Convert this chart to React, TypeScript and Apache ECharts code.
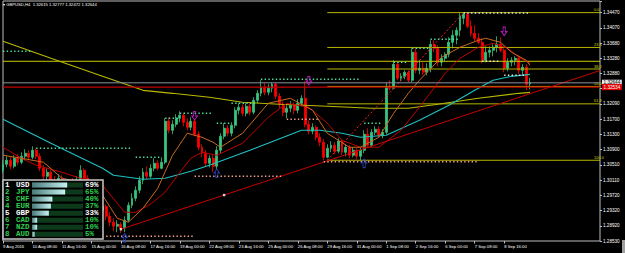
import React, { useEffect, useRef } from 'react';
import * as echarts from 'echarts';

const symbolName = 'GBPUSD,H4';
const firstYear = '2016';
const tradingDays = ['9 Aug','10 Aug','11 Aug','12 Aug','15 Aug','16 Aug','17 Aug','18 Aug','19 Aug','22 Aug','23 Aug','24 Aug','25 Aug','26 Aug','29 Aug','30 Aug','31 Aug','1 Sep','2 Sep','5 Sep','6 Sep','7 Sep','8 Sep','9 Sep'];
const barHours = ['00:00','04:00','08:00','12:00','16:00','20:00'];
const emptySlots = 19;

const opens = [
1.30370,1.30526,1.30630,1.30474,1.30682,1.30578,1.30734,1.30812,1.30708,1.30890,
1.30734,1.30422,1.30214,1.30318,1.30110,1.29980,1.30162,1.29954,1.29850,1.30006,
1.29902,1.30058,1.30370,1.30162,1.29980,1.29720,1.29590,1.29330,1.29434,1.29174,
1.29018,1.28914,1.28966,1.28862,1.29070,1.29460,1.29642,1.29850,1.30110,1.30318,
1.30214,1.30422,1.30552,1.30422,1.30578,1.31644,1.31410,1.31566,1.31722,1.31800,
1.31618,1.31488,1.31644,1.31306,1.30968,1.30812,1.30552,1.30682,1.30474,1.30890,
1.31254,1.31462,1.31332,1.31540,1.31930,1.32008,1.31852,1.32034,1.31878,1.32190,
1.32372,1.32528,1.32398,1.32502,1.32606,1.32294,1.32086,1.31878,1.31982,1.32060,
1.31930,1.32112,1.32242,1.31566,1.31384,1.31488,1.31228,1.31098,1.30708,1.30942,
1.31020,1.30864,1.31124,1.30838,1.30968,1.30760,1.30890,1.30734,1.30890,1.31306,
1.31020,1.31358,1.31436,1.31280,1.31358,1.32554,1.32502,1.33126,1.32762,1.32814,
1.32918,1.32710,1.33438,1.32970,1.33022,1.32918,1.33022,1.33646,1.33542,1.33178,
1.33282,1.33386,1.33698,1.33880,1.34010,1.34322,1.34426,1.34114,1.33932,1.33802,
1.33698,1.33230,1.33438,1.33490,1.33568,1.33646,1.33490,1.33022,1.33178,1.33230,
1.33282,1.32970,1.33048,1.32615];
const closes = [
1.30526,1.30630,1.30474,1.30682,1.30578,1.30734,1.30812,1.30708,1.30890,1.30734,
1.30422,1.30214,1.30318,1.30110,1.29980,1.30162,1.29954,1.29850,1.30006,1.29902,
1.30058,1.30370,1.30162,1.29980,1.29720,1.29590,1.29330,1.29434,1.29174,1.29018,
1.28914,1.28966,1.28862,1.29070,1.29460,1.29642,1.29850,1.30110,1.30318,1.30214,
1.30422,1.30552,1.30422,1.30578,1.31644,1.31410,1.31566,1.31722,1.31800,1.31618,
1.31488,1.31644,1.31306,1.30968,1.30812,1.30552,1.30682,1.30474,1.30890,1.31254,
1.31462,1.31332,1.31540,1.31930,1.32008,1.31852,1.32034,1.31878,1.32190,1.32372,
1.32528,1.32398,1.32502,1.32606,1.32294,1.32086,1.31878,1.31982,1.32060,1.31930,
1.32112,1.32242,1.31566,1.31384,1.31488,1.31228,1.31098,1.30708,1.30942,1.31020,
1.30864,1.31124,1.30838,1.30968,1.30760,1.30890,1.30734,1.30890,1.31306,1.31020,
1.31358,1.31436,1.31280,1.31358,1.32554,1.32502,1.33126,1.32762,1.32814,1.32918,
1.32710,1.33438,1.32970,1.33022,1.32918,1.33022,1.33646,1.33542,1.33178,1.33282,
1.33386,1.33698,1.33880,1.34010,1.34374,1.34426,1.34114,1.33932,1.33802,1.33698,
1.33230,1.33438,1.33490,1.33568,1.33646,1.33490,1.33022,1.33178,1.33230,1.33282,
1.32970,1.33048,1.32606,1.32644];
const highs = [
1.30630,1.30734,1.30708,1.30760,1.30786,1.30838,1.30916,1.30890,1.30994,1.30942,
1.30812,1.30500,1.30422,1.30370,1.30214,1.30266,1.30240,1.30032,1.30084,1.30162,
1.30214,1.30500,1.30422,1.30240,1.30058,1.29850,1.29668,1.29538,1.29486,1.29278,
1.29122,1.29070,1.29018,1.29174,1.29538,1.29772,1.29954,1.30214,1.30422,1.30474,
1.30526,1.30682,1.30630,1.30708,1.31722,1.31748,1.31670,1.31826,1.31904,1.31852,
1.31722,1.31748,1.31696,1.31384,1.31046,1.30890,1.30760,1.30760,1.30994,1.31332,
1.31592,1.31540,1.31618,1.32008,1.32112,1.32086,1.32112,1.32112,1.32268,1.32450,
1.32710,1.32632,1.32606,1.32658,1.32658,1.32372,1.32164,1.32060,1.32164,1.32138,
1.32216,1.32320,1.32684,1.31670,1.31592,1.31540,1.31332,1.31176,1.31046,1.31124,
1.31098,1.31202,1.31176,1.31046,1.31020,1.30968,1.30942,1.30968,1.31410,1.31462,
1.31436,1.31514,1.31514,1.31436,1.32658,1.32710,1.33230,1.33178,1.32892,1.32970,
1.32970,1.33542,1.33542,1.33230,1.33178,1.33152,1.33750,1.33750,1.33620,1.33386,
1.33438,1.33828,1.34010,1.34088,1.34452,1.34470,1.34452,1.34270,1.34140,1.33932,
1.33802,1.33594,1.33594,1.33646,1.33854,1.33828,1.33542,1.33282,1.33308,1.33334,
1.33334,1.33126,1.33126,1.32777];
const lows = [
1.30292,1.30448,1.30396,1.30422,1.30500,1.30526,1.30630,1.30630,1.30656,1.30656,
1.30344,1.30110,1.30058,1.29980,1.29850,1.29902,1.29850,1.29720,1.29746,1.29798,
1.29850,1.29980,1.30058,1.29850,1.29590,1.29460,1.29226,1.29174,1.29070,1.28914,
1.28784,1.28758,1.28732,1.28758,1.29018,1.29382,1.29564,1.29772,1.30006,1.30136,
1.30162,1.30344,1.30370,1.30396,1.30526,1.31332,1.31306,1.31488,1.31618,1.31514,
1.31410,1.31410,1.31254,1.30890,1.30708,1.30474,1.30448,1.30318,1.30396,1.30812,
1.31176,1.31254,1.31254,1.31462,1.31826,1.31774,1.31774,1.31800,1.31826,1.32112,
1.32294,1.32320,1.32320,1.32398,1.32216,1.31982,1.31774,1.31722,1.31878,1.31826,
1.31852,1.32034,1.31488,1.31306,1.31306,1.31150,1.30994,1.30630,1.30682,1.30838,
1.30786,1.30812,1.30760,1.30734,1.30682,1.30708,1.30656,1.30630,1.30812,1.30968,
1.30968,1.31280,1.31228,1.31202,1.31306,1.32450,1.32476,1.32710,1.32684,1.32736,
1.32658,1.32658,1.32892,1.32866,1.32840,1.32840,1.32918,1.33438,1.33074,1.33074,
1.33204,1.33308,1.33542,1.33646,1.33854,1.34166,1.34062,1.33854,1.33724,1.33646,
1.33152,1.33178,1.33308,1.33334,1.33438,1.33438,1.32918,1.32944,1.33074,1.33100,
1.32866,1.32840,1.32450,1.32472];

// moving averages: [bar index, price]
const maYellow = [[0,1.33724],[13,1.33282],[27,1.32814],[38,1.32450],[46,1.32372],[56,1.32268],[65,1.32138],[75,1.32086],[88,1.32034],[100,1.31982],[110,1.31982],[118,1.32086],[129,1.32242],[140,1.32372],[143,1.32398]];
const maCyan = [[0,1.31696],[13,1.31072],[27,1.30422],[30,1.30240],[38,1.30136],[44,1.30162],[51,1.30344],[56,1.30500],[67,1.30890],[81,1.31410],[86,1.31410],[92,1.31332],[97,1.31228],[104,1.31280],[113,1.31670],[121,1.32060],[128,1.32450],[133,1.32710],[138,1.32814],[143,1.32866]];
const maOrange = [[0,1.30760],[5,1.30682],[11,1.30578],[16,1.30162],[21,1.30058],[27,1.29720],[31,1.29122],[34,1.29018],[38,1.29382],[42,1.29902],[46,1.30760],[50,1.31332],[54,1.31228],[57,1.31098],[59,1.30968],[65,1.31332],[72,1.32112],[78,1.32242],[84,1.31930],[88,1.31332],[94,1.30968],[97,1.30968],[102,1.31228],[106,1.31852],[110,1.32372],[113,1.32710],[119,1.33308],[124,1.33568],[129,1.33750],[131,1.33802],[135,1.33698],[138,1.33438],[142,1.33230],[143,1.33100]];
const maRed = [[0,1.30968],[5,1.30682],[9,1.30500],[16,1.30318],[21,1.30162],[27,1.29980],[31,1.29512],[33,1.29278],[36,1.29278],[40,1.29486],[44,1.29798],[48,1.30318],[51,1.30682],[54,1.30838],[58,1.30760],[65,1.31072],[72,1.31748],[77,1.32112],[83,1.32008],[88,1.31592],[92,1.31150],[97,1.30968],[102,1.30968],[108,1.31410],[113,1.32008],[120,1.32892],[124,1.33282],[129,1.33568],[133,1.33672],[137,1.33542],[140,1.33308],[143,1.33152]];

// support / resistance dotted levels: [from bar, to bar, price]
const greenLevels = [[0,8,1.33464],[9,35,1.30942],[36,43,1.30708],[44,48,1.31722],[48,57,1.31852],[58,62,1.31592],[62,69,1.32112],[70,97,1.32736],[98,103,1.31592],[106,110,1.33178],[111,116,1.33542],[116,124,1.33776]];
const salmonLevels = [[28,52,1.28654],[52,76,1.30214],[77,86,1.31696],[87,129,1.30591]];
const whiteLevels = [[125,143,1.34460],[130,135,1.33204],[136,142,1.32840]];

// fractal arrows
const arrowsUp = [[33,1.28615],[58,1.30292],[98,1.30552]];
const arrowsDown = [[52,1.31787],[83,1.32697],[136,1.33984]];

// drawn objects
const trendLine = [[32,1.28836],[162,1.32964]];
const trendAnchors = [[32,1.28836],[60,1.29725]];
const fibLow = [88, 1.30630];
const fibHigh = [125, 1.34470];
const fibLevels = [0, 23.6, 38.2, 50, 61.8, 100];
const yellowLine = 1.33204;
const redLine = 1.32534;

// axis
const yMin = 1.2853;
const yMax = 1.34772;
const yStep = 0.00396;
const yTickLabels = ['1.28530','1.28920','1.29320','1.29720','1.30110','1.30510','1.30900','1.31300','1.31700','1.32090','1.32490','1.32880','1.33280','1.33680','1.34070','1.34470'];

// currency strength panel
const strengthCodes = ['USD','JPY','CHF','EUR','GBP','CAD','NZD','AUD'];
const strengthPct = [69, 65, 40, 37, 33, 10, 10, 5];
const strengthHighlight = ['USD','GBP'];

const BULL = '#36c47e';
const BEAR = '#ff0000';
const PANEL_GREEN = '#2fcf4f';
const FONT = 'Liberation Sans';

export default function App() {
  const ref = useRef<HTMLDivElement>(null);
  useEffect(() => {
    if (!ref.current) return;
    const chart = echarts.init(ref.current, null, { renderer: 'svg' });
    const categories: string[] = [];
    tradingDays.forEach(d => barHours.forEach(h => categories.push(d + ' ' + h)));
    for (let k = 0; k < emptySlots; k++) categories.push('');
    const lastSlot = categories.length - 1;
    const candles = opens.map((o, i) => [o, closes[i], lows[i], highs[i]]);
    const n = opens.length - 1;
    const lastClose = closes[n];
    const showTick = (i: number) => i % 8 === 0 && i < opens.length - 4;

    const fibPrice = (lvl: number) => fibHigh[1] - (fibHigh[1] - fibLow[1]) * lvl / 100;
    const priceBox = (p: number, bg: string, fg: string) => ({
      show: true, position: 'end', formatter: p.toFixed(5), backgroundColor: bg, color: fg,
      fontSize: 4.6, fontFamily: FONT, padding: [0.6, 1.6], distance: 2,
    });

    const series: any[] = [];
    series.push({
      type: 'candlestick', xAxisIndex: 0, yAxisIndex: 0, z: 2,
      data: candles, barWidth: 2.4,
      itemStyle: { color: BULL, color0: BEAR, borderColor: BULL, borderColor0: BEAR, borderWidth: 0.8 },
    });
    const lineSeries = (data: number[][], color: string, width: number, type: any = 'solid', z = 3) => ({
      type: 'line', xAxisIndex: 0, yAxisIndex: 0, z, data, symbol: 'none', silent: true,
      lineStyle: { color, width, type }, emphasis: { disabled: true },
    });
    // horizontal full-width and fibonacci lines (with their labels)
    series.push({
      ...lineSeries([[0, yellowLine], [lastSlot, yellowLine]], '#c8c800', 1),
    });
    fibLevels.forEach(lvl => {
      const p = fibPrice(lvl);
      series.push({
        ...lineSeries([[fibLow[0], p], [lastSlot, p]], '#b4b400', 1),
        endLabel: { show: true, formatter: lvl.toFixed(1), color: '#d0d000', fontSize: 4, fontFamily: FONT, offset: [-14, -3], align: 'left' },
      });
    });
    series.push({ ...lineSeries([[0, lastClose], [lastSlot, lastClose]], '#8a90a0', 1), z: 4, endLabel: priceBox(lastClose, '#e8e8e8', '#000') });
    series.push({ ...lineSeries([[0, redLine], [lastSlot, redLine]], '#c00000', 1.2), z: 4, endLabel: priceBox(redLine, '#e00000', '#fff') });

    series.push(lineSeries(maYellow, '#b8b800', 1.2));
    series.push(lineSeries(maCyan, '#1fbfbf', 1.2));
    series.push(lineSeries(maRed, '#c00000', 1));
    series.push(lineSeries(maOrange, '#c86a1e', 1));
    series.push(lineSeries(trendLine, '#c80000', 1));
    series.push(lineSeries([fibLow, fibHigh], '#ff2020', 1, [2, 2]));
    const dots = (levels: number[][], color: string) => levels.forEach(([a, b, p]) =>
      series.push(lineSeries([[a, p], [b, p]], color, 1.4, [1.4, 2.3], 4)));
    dots(greenLevels, '#4fe0a0');
    dots(salmonLevels, '#f4a090');
    dots(whiteLevels, '#e8e8e8');
    series.push({
      type: 'scatter', xAxisIndex: 0, yAxisIndex: 0, z: 6, data: arrowsUp, silent: true,
      symbol: 'path://M5,0 L10,5 L7,5 L7,11 L3,11 L3,5 L0,5 Z', symbolSize: [5.5, 8.5],
      itemStyle: { color: 'rgba(0,0,0,0)', borderColor: '#2a4cd8', borderWidth: 1 },
    });
    series.push({
      type: 'scatter', xAxisIndex: 0, yAxisIndex: 0, z: 6, data: arrowsDown, silent: true,
      symbol: 'path://M3,0 L7,0 L7,6 L10,6 L5,11 L0,6 L3,6 Z', symbolSize: [5.5, 8.5],
      itemStyle: { color: 'rgba(0,0,0,0)', borderColor: '#e020e0', borderWidth: 1 },
    });
    series.push({
      type: 'scatter', xAxisIndex: 0, yAxisIndex: 0, z: 6, data: trendAnchors, silent: true,
      symbol: 'rect', symbolSize: 2.4, itemStyle: { color: '#ffffff' },
    });
    series.push({
      type: 'bar', xAxisIndex: 1, yAxisIndex: 1, z: 55, data: strengthPct, barWidth: 5, silent: true,
      showBackground: true, backgroundStyle: { color: '#0e3a1c' },
      itemStyle: { color: new echarts.graphic.LinearGradient(0, 0, 1, 0, [{ offset: 0, color: '#4a7a7c' }, { offset: 1, color: '#c8f2f2' }]) },
    });

    const richBase = { fontFamily: 'Liberation Mono', fontSize: 7.5, fontWeight: 'bold' as const };
    const rowStyle = (code: string) => (strengthHighlight.includes(code) ? 'w' : 'g');
    // MT4 hides the scale labels that sit under the price boxes
    const underPriceBox = (v: number) => Math.abs(v - lastClose) < 0.0012 || Math.abs(v - redLine) < 0.0012;

    chart.setOption({
      animation: false,
      backgroundColor: '#000',
      grid: [
        { left: 1, right: 25, top: 1, bottom: 12, show: true, borderColor: '#bdbdbd', borderWidth: 1, backgroundColor: 'transparent' },
        { left: 32, top: 181.5, width: 51, height: 56.3 },
      ],
      xAxis: [
        {
          type: 'category', gridIndex: 0, data: categories, boundaryGap: false,
          axisLine: { show: false },
          axisTick: { show: true, interval: (i: number) => showTick(i), length: 2.5, lineStyle: { color: '#c0c0c0' } },
          axisLabel: {
            interval: (i: number) => showTick(i), align: 'left', margin: 3, color: '#ffffff', fontSize: 4.2, fontFamily: FONT,
            formatter: (v: string, i: number) => (i === 0 ? tradingDays[0] + ' ' + firstYear : v),
          },
          splitLine: { show: false },
        },
        { type: 'value', gridIndex: 1, min: 0, max: 100, show: false },
      ],
      yAxis: [
        {
          type: 'value', gridIndex: 0, position: 'right', min: yMin, max: yMax, interval: yStep, scale: true,
          axisLine: { show: false },
          axisTick: { show: true, length: 2, lineStyle: { color: '#c0c0c0' } },
          splitLine: { show: false },
          axisLabel: {
            margin: 3, color: '#ffffff', fontSize: 4.6, fontFamily: FONT,
            formatter: (v: number) => {
              const k = Math.round((v - yMin) / yStep);
              if (k < 0 || k >= yTickLabels.length) return '';
              if (Math.abs(yMin + k * yStep - v) > yStep * 0.05) return '';
              if (underPriceBox(v)) return '';
              return yTickLabels[k];
            },
          },
        },
        {
          type: 'category', gridIndex: 1, data: strengthCodes, inverse: true, position: 'left', z: 60,
          axisLine: { show: false }, axisTick: { show: false },
          axisLabel: {
            interval: 0, margin: 27, align: 'left',
            formatter: (code: string, i: number) => `{${rowStyle(code)}n|${i + 1}}{${rowStyle(code)}|${code}}`,
            rich: {
              wn: { ...richBase, color: '#ffffff', width: 11 }, w: { ...richBase, color: '#ffffff' },
              gn: { ...richBase, color: PANEL_GREEN, width: 11 }, g: { ...richBase, color: PANEL_GREEN },
            },
          },
        },
        {
          type: 'category', gridIndex: 1, data: strengthCodes, inverse: true, position: 'right', z: 60,
          axisLine: { show: false }, axisTick: { show: false },
          axisLabel: {
            interval: 0, margin: 2, align: 'left',
            formatter: (code: string, i: number) => `{${rowStyle(code)}|${strengthPct[i]}%}`,
            rich: { w: { ...richBase, color: '#ffffff' }, g: { ...richBase, color: PANEL_GREEN } },
          },
        },
      ],
      series,
      graphic: [
        { type: 'rect', z: 50, shape: { x: 3, y: 180, width: 100, height: 59 }, style: { fill: '#000', stroke: '#c8c8c8', lineWidth: 1.5 } },
        { type: 'text', z: 100, x: 3, y: 4.5, style: {
            text: `\u25BE ${symbolName}  ${opens[n].toFixed(5)} ${highs[n].toFixed(5)} ${lows[n].toFixed(5)} ${closes[n].toFixed(5)}`,
            fill: '#ffffff', fontSize: 4.2, fontFamily: FONT, verticalAlign: 'middle', align: 'left' } },
        { type: 'rect', z: 100, shape: { x: 622, y: 240, width: 3, height: 13 }, style: { fill: '#a0a0a0' } },
      ],
    });
    return () => chart.dispose();
  }, []);
  return <div ref={ref} style={{ position: 'fixed', left: 0, top: 0, width: 625, height: 253, background: '#000' }} />;
}
